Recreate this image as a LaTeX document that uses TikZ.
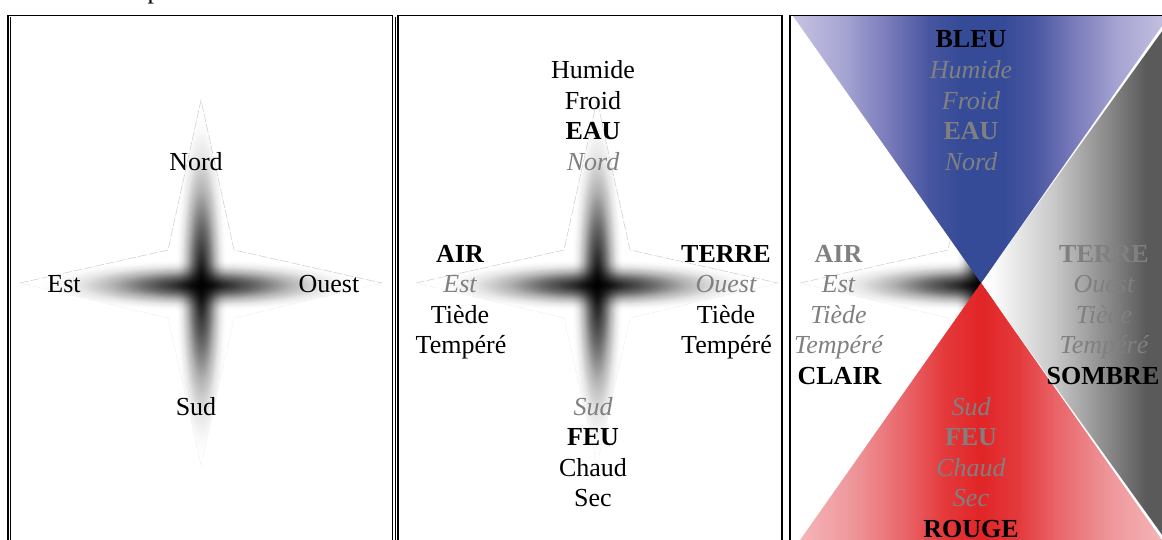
\documentclass[tikz,border=0pt]{standalone}
\usepackage{fontspec}
\setmainfont{Liberation Serif}
\definecolor{lav}{RGB}{198,195,226}
\definecolor{lavb}{RGB}{165,163,210}
\definecolor{blm}{RGB}{118,120,185}
\definecolor{bld}{RGB}{72,86,160}
\definecolor{blc}{RGB}{54,75,152}
\definecolor{pk}{RGB}{245,185,188}
\definecolor{pkb}{RGB}{238,150,154}
\definecolor{rdm}{RGB}{233,100,104}
\definecolor{rdd}{RGB}{228,58,60}
\definecolor{rdc}{RGB}{226,36,38}
\definecolor{gra}{RGB}{200,200,200}
\definecolor{grb}{RGB}{128,128,128}
\definecolor{grc}{RGB}{90,90,90}
\definecolor{txtgray}{RGB}{128,128,128}
\pgfdeclarehorizontalshading{blueband}{100bp}{color(0bp)=(lav); color(25bp)=(lav); color(32bp)=(lavb); color(38bp)=(blm); color(43bp)=(bld); color(47bp)=(blc); color(53bp)=(blc); color(57bp)=(bld); color(62bp)=(blm); color(68bp)=(lavb); color(75bp)=(lav); color(100bp)=(lav)}
\pgfdeclarehorizontalshading{redband}{100bp}{color(0bp)=(pk); color(25bp)=(pk); color(33bp)=(pkb); color(40bp)=(rdm); color(45bp)=(rdd); color(50bp)=(rdc); color(55bp)=(rdd); color(60bp)=(rdm); color(67bp)=(pkb); color(75bp)=(pk); color(100bp)=(pk)}
\pgfdeclarehorizontalshading{grayramp}{100bp}{color(0bp)=(white); color(27bp)=(white); color(44bp)=(gra); color(60bp)=(grb); color(68bp)=(grc); color(100bp)=(grc)}
\pgfdeclareradialshading{glow}{\pgfpoint{0bp}{0bp}}{color(0bp)=(black!95); color(3bp)=(black!82); color(7bp)=(black!58); color(11bp)=(black!30); color(15bp)=(black!10); color(18bp)=(black!2); color(20bp)=(white); color(50bp)=(white)}
\tikzset{
  lbl/.style={font=\fontsize{26}{30}\selectfont, anchor=base, inner sep=0pt, text=black},
  bl/.style={lbl, font=\fontsize{26}{30}\selectfont\bfseries},
  gi/.style={lbl, font=\fontsize{26}{30}\selectfont\itshape, text=txtgray},
  gb/.style={lbl, font=\fontsize{26}{30}\selectfont\bfseries, text=txtgray},
  starline/.style={draw=gray!40, line width=0.5pt, dash pattern=on 9pt off 2pt},
  frame/.style={draw=black, line width=1.8pt},
  thinframe/.style={draw=black, line width=0.6pt},
  compass/.pic={
    \begin{scope}
      \clip (-181,-2) -- (-33,-35) -- (0,-185) -- (33,-35) -- (181,-2) -- (33,33) -- (0,180) -- (-33,33) -- cycle;
      \begin{scope}[blend mode=multiply]
        \shade[shading=glow] (0,0) ellipse [x radius=200, y radius=32];
        \shade[shading=glow] (0,0) ellipse [x radius=32, y radius=215];
      \end{scope}
    \end{scope}
    \draw[starline] (-181,-2) -- (-33,-35) -- (0,-185) -- (33,-35) -- (181,-2);
    \draw[starline, draw=gray!12] (181,-2) -- (33,33) -- (0,180) -- (-33,33) -- (-181,-2);
  }
}
\begin{document}
\begin{tikzpicture}[x=1pt, y=-1pt]
\path[use as bounding box, clip] (0,0) rectangle (1162,539);
\fill[white] (0,0) rectangle (1162,539);

% fragment of caption above
\node[lbl, anchor=base west] (cap) at (147.5,-1.5) {p};

% ---------- panel 1 ----------
\pic at (201,285) {compass};
\node[lbl] (a1n) at (196,170) {Nord};
\node[lbl] (a1e) at (64,292.5) {Est};
\node[lbl] (a1o) at (329,292.5) {Ouest};
\node[lbl] (a1s) at (196,415) {Sud};

% ---------- panel 2 ----------
\pic at (597,285) {compass};
\node[lbl] (b1) at (593,78.5) {Humide};
\node[lbl] (b2) at (593,109) {Froid};
\node[bl]  (b3) at (593,139.5) {EAU};
\node[gi]  (b4) at (593,170) {Nord};
\node[bl]  (bl1) at (460,262) {AIR};
\node[gi]  (bl2) at (460,292.5) {Est};
\node[lbl] (bl3) at (460,323) {Tiède};
\node[lbl] (bl4) at (461,353.5) {Tempéré};
\node[bl]  (br1) at (726,262) {TERRE};
\node[gi]  (br2) at (726,292.5) {Ouest};
\node[lbl] (br3) at (726,323) {Tiède};
\node[lbl] (br4) at (726.5,353.5) {Tempéré};
\node[gi]  (bs1) at (593,415) {Sud};
\node[bl]  (bs2) at (593,445.5) {FEU};
\node[lbl] (bs3) at (593,476) {Chaud};
\node[lbl] (bs4) at (593,506.5) {Sec};

% ---------- panel 3 ----------
\pic at (981,285) {compass};
\shade[shading=grayramp] (981,283) -- (1173,16) -- (1173,550) -- cycle;
\shade[shading=blueband] (793,16) -- (1169,16) -- (981,283) -- cycle;
\shade[shading=redband] (981,283) -- (1169,550) -- (793,550) -- cycle;
\node[bl] (c0) at (971,47.5) {BLEU};
\node[gi] (c1) at (971,78.5) {Humide};
\node[gi] (c2) at (971,109) {Froid};
\node[gb] (c3) at (971,139.5) {EAU};
\node[gi] (c4) at (971,170) {Nord};
\node[gb] (cl1) at (838.5,262) {AIR};
\node[gi] (cl2) at (838.5,292.5) {Est};
\node[gi] (cl3) at (838.5,323) {Tiède};
\node[gi] (cl4) at (838.5,353.5) {Tempéré};
\node[bl] (cl5) at (839.5,384) {CLAIR};
\node[gb] (cr1) at (1104,262) {TERRE};
\node[gi] (cr2) at (1104,292.5) {Ouest};
\node[gi] (cr3) at (1104,323) {Tiède};
\node[gi] (cr4) at (1104,353.5) {Tempéré};
\node[bl] (cr5) at (1103,384) {SOMBRE};
\node[gi] (cs1) at (971,415) {Sud};
\node[gb] (cs2) at (971,445.5) {FEU};
\node[gi] (cs3) at (971,476) {Chaud};
\node[gi] (cs4) at (971,506.5) {Sec};
\node[bl] (cs5) at (971,537) {ROUGE};

% ---------- frames ----------
\draw[frame] (8,15.5) rectangle (392.5,560);
\draw[thinframe] (10.6,16.5) -- (10.6,560);
\draw[thinframe] (395.4,16.5) -- (395.4,560);
\draw[frame] (398,15.5) rectangle (782,560);
\draw[frame] (790,15.5) rectangle (1175,560);
\end{tikzpicture}
\end{document}
